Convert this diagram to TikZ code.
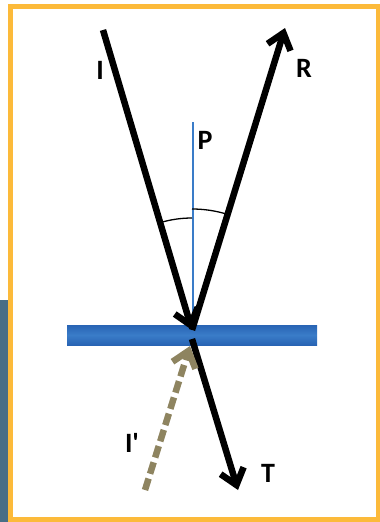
\documentclass[tikz,border=0pt]{standalone}
\usepackage{fontspec}
\setmainfont{Carlito}
\newfontfamily\lblfont{Carlito}[Ligatures=ResetAll]
\usetikzlibrary{arrows.meta}
\definecolor{frameorange}{RGB}{252,186,58}
\definecolor{sidebar}{RGB}{72,110,134}
\definecolor{glassblue}{RGB}{58,124,200}
\definecolor{glassdark}{RGB}{40,100,180}
\definecolor{dashkhaki}{RGB}{142,132,96}
\tikzset{
    ray/.style={line width=6.5pt,-{Straight Barb[length=15pt,width=24pt]}},
    backray/.style={ray,dashkhaki,dash pattern=on 12pt off 5pt},
    normal/.style={glassblue,line width=1.3pt},
    anglearc/.style={black,line width=1.3pt},
    lbl/.style={font=\lblfont\fontsize{28}{28}\selectfont\bfseries,inner sep=0pt}
}

\begin{document}
\begin{tikzpicture}[x=1pt,y=-1pt]
        \useasboundingbox (0,0) rectangle (380,522);
        % Frame and side bar
        \fill[sidebar] (0,300) rectangle (9,522);
        \draw[frameorange,line width=5pt] (10.5,6.5) rectangle (378,519.5);
        % Glass plate
        \shade[top color=glassdark,bottom color=glassdark,middle color=glassblue] (67,325) rectangle (317,345);
        % Points
        \coordinate (O) at (192,330);
        \coordinate (Itop) at (103,30);
        \coordinate (Rtop) at (285,28);
        \coordinate (Ptop) at (193,122);
        \coordinate (Pbot) at (193,331);
        \coordinate (Tstart) at (192,339);
        \coordinate (Tend) at (238,490);
        \coordinate (Ibstart) at (145,490);
        \coordinate (Ibend) at (190,346);
        % Normal
        \draw[normal] (Ptop) -- (Pbot);
        % Angles
        \draw[anglearc] (O) ++(-106.5:112) arc[start angle=-106.5,end angle=-90,radius=112];
        \draw[anglearc] (O) ++(-90:121) arc[start angle=-90,end angle=-72.9,radius=121];
        % Rays
        \draw[ray] (Itop) -- (O);
        \draw[ray] (O) -- (Rtop);
        \draw[ray] (Tstart) -- (Tend);
        \draw[backray] (Ibstart) -- (Ibend);
        % Labels
        \node[lbl] (lI) at (100,70) {I};
        \node[lbl] (lR) at (304,68) {R};
        \node[lbl] (lP) at (205,140) {P};
        \node[lbl] (lT) at (268,473) {T};
        \node[lbl] (lIb) at (132,443) {I'};
    \end{tikzpicture}
\end{document}
